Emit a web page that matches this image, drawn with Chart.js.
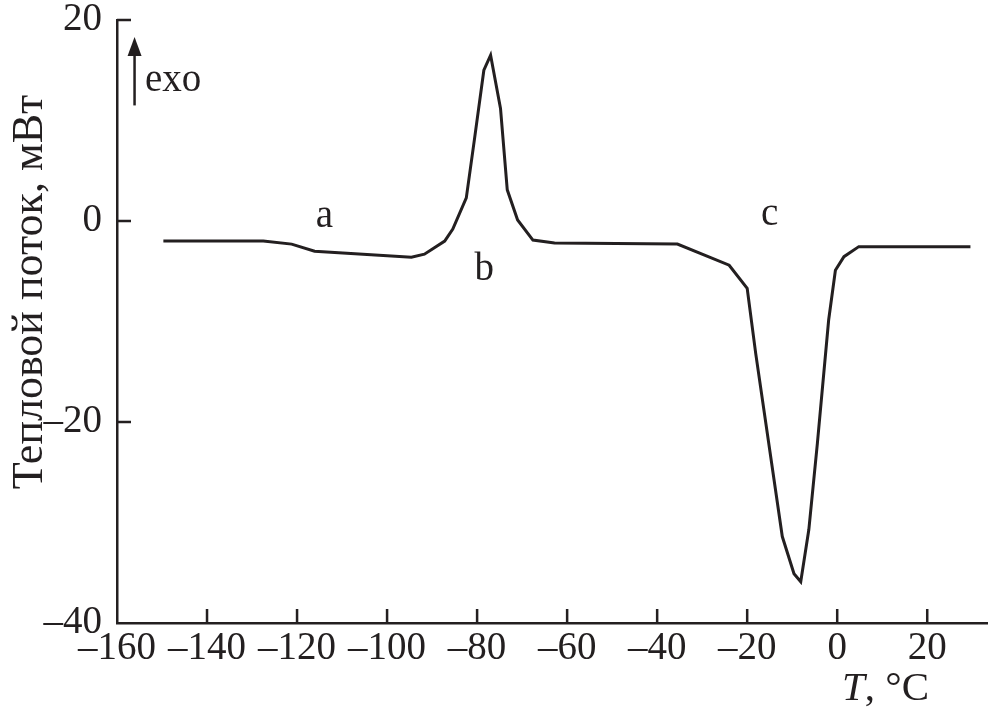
<!DOCTYPE html>
<html>
<head>
<meta charset="utf-8">
<script src="https://cdn.jsdelivr.net/npm/chart.js@4"></script>
<style>
  html, body { margin: 0; padding: 0; background: #fff; }
  #wrap { width: 988px; height: 716px; }
</style>
</head>
<body>
<div id="wrap"><canvas id="dsc" width="988" height="716"></canvas></div>
<script>
// DSC curve
const temps    = [-149.7, -127.5, -121.2, -116.1, -94.6, -91.7, -87.2, -85.4, -82.4, -80.6, -78.5, -77.0,
                  -74.8, -73.3, -71.0, -67.6, -62.8, -35.5, -24.0, -20.0, -18.1, -12.2, -9.6, -8.1,
                  -6.3, -4.4, -1.9, -0.4, 1.5, 4.8, 29.6];
const heatFlow = [-2.0, -2.0, -2.3, -3.0, -3.6, -3.3, -2.0, -0.8, 2.3, 8.1, 15.0, 16.5,
                  11.2, 3.1, 0.1, -1.9, -2.2, -2.3, -4.4, -6.7, -13.2, -31.4, -35.1, -35.9,
                  -30.7, -22.1, -9.85, -4.9, -3.55, -2.55, -2.55];
const xTicks = [-160, -140, -120, -100, -80, -60, -40, -20, 0, 20];
const yTicks = [-40, -20, 0, 20];
const peakNames = ['a', 'b', 'c'];
const peakX = [-113.9, -78.4, -15.0];
const peakY = [-0.57, -5.87, -0.4];

const ink = '#231f20';
const serif = '"Liberation Serif", "Times New Roman", serif';

const decor = {
  id: 'decor',
  afterDraw(chart) {
    const { ctx, scales: { x, y } } = chart;
    ctx.save();
    // inward tick marks
    ctx.strokeStyle = ink;
    ctx.lineWidth = 2.5;
    ctx.beginPath();
    xTicks.forEach(v => {
      if (v === x.min) return;
      const px = x.getPixelForValue(v);
      ctx.moveTo(px, y.bottom);
      ctx.lineTo(px, y.bottom - 14);
    });
    yTicks.forEach(v => {
      if (v === y.min) return;
      const py = y.getPixelForValue(v);
      ctx.moveTo(x.left, py);
      ctx.lineTo(x.left + 14, py);
    });
    ctx.stroke();

    ctx.fillStyle = ink;
    // peak letters
    ctx.font = '39px ' + serif;
    ctx.textAlign = 'center';
    ctx.textBaseline = 'alphabetic';
    peakNames.forEach((s, i) => {
      ctx.fillText(s, x.getPixelForValue(peakX[i]), y.getPixelForValue(peakY[i]));
    });

    // exo arrow
    const ax = x.getPixelForValue(-156.1);
    const aTop = y.getPixelForValue(18.3);
    const aBot = y.getPixelForValue(11.5);
    ctx.lineWidth = 2.5;
    ctx.beginPath();
    ctx.moveTo(ax, aBot);
    ctx.lineTo(ax, aTop + 12);
    ctx.stroke();
    ctx.beginPath();
    ctx.moveTo(ax, aTop);
    ctx.lineTo(ax - 7, aTop + 19);
    ctx.lineTo(ax + 7, aTop + 19);
    ctx.closePath();
    ctx.fill();
    ctx.textAlign = 'left';
    ctx.fillText('exo', x.getPixelForValue(-153.8), y.getPixelForValue(12.9));

    // y title
    ctx.save();
    ctx.translate(30, 292);
    ctx.rotate(-Math.PI / 2);
    ctx.font = '44px ' + serif;
    ctx.textAlign = 'center';
    ctx.textBaseline = 'middle';
    ctx.fillText('Тепловой поток, мВт', 0, 0);
    ctx.restore();

    // x title
    ctx.textAlign = 'left';
    ctx.textBaseline = 'alphabetic';
    ctx.font = 'italic 41px ' + serif;
    const tx = 842, ty = 700;
    ctx.fillText('T', tx, ty);
    const tw = ctx.measureText('T').width;
    ctx.font = '41px ' + serif;
    ctx.fillText(', °C', tx + tw, ty);
    ctx.restore();
  }
};

const minus = v => v < 0 ? '–' + Math.abs(v) : String(v);

new Chart(document.getElementById('dsc'), {
  type: 'line',
  data: {
    datasets: [{
      data: temps.map((t, i) => ({ x: t, y: heatFlow[i] })),
      borderColor: ink,
      borderWidth: 3,
      pointRadius: 0,
      tension: 0,
      fill: false
    }]
  },
  options: {
    responsive: false,
    animation: false,
    devicePixelRatio: 1,
    layout: { padding: { top: 20, right: 0, left: 0, bottom: 0 } },
    plugins: { legend: { display: false }, tooltip: { enabled: false } },
    scales: {
      x: {
        type: 'linear',
        min: -160,
        max: 33.5,
        grid: { display: false, drawTicks: false },
        border: { display: true, color: ink, width: 2.5 },
        ticks: {
          stepSize: 20,
          includeBounds: false,
          autoSkip: false,
          maxRotation: 0,
          padding: 6,
          color: ink,
          font: { family: serif, size: 39, lineHeight: 1 },
          callback: minus
        },
        afterFit: s => { s.height = 93; s.paddingLeft = 0; s.paddingRight = 0; }
      },
      y: {
        type: 'linear',
        min: -40,
        max: 20,
        grid: { display: false, drawTicks: false },
        border: { display: true, color: ink, width: 2.5 },
        ticks: {
          stepSize: 20,
          padding: 15,
          color: ink,
          font: { family: serif, size: 39, lineHeight: 1 },
          callback: minus
        },
        afterFit: s => { s.width = 117; s.paddingTop = 0; s.paddingBottom = 0; }
      }
    }
  },
  plugins: [decor]
});
</script>
</body>
</html>
